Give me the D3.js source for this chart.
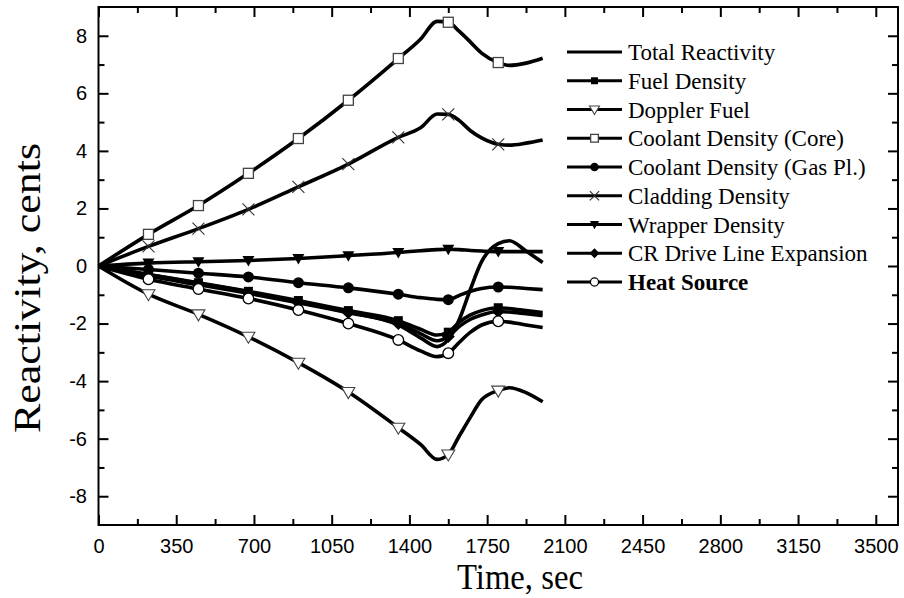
<!DOCTYPE html>
<html><head><meta charset="utf-8">
<script src="https://cdn.jsdelivr.net/npm/d3@7"></script>
<style>body{margin:0;background:#fff}svg{display:block}</style>
</head><body><svg id="c" width="904" height="598"></svg>
<script>
const times = [0,225,450,675,900,1125,1350,1450,1525,1575,1625,1675,1725,1800,1850,1925,2000];
const totalReactivity = [0,-0.3,-0.6,-0.9,-1.25,-1.6,-2.05,-2.5,-2.8,-2.55,-1.85,-0.8,0.15,0.78,0.88,0.52,0.12];
const fuelDensity = [0,-0.3,-0.58,-0.88,-1.2,-1.55,-1.9,-2.2,-2.4,-2.3,-1.95,-1.7,-1.55,-1.45,-1.48,-1.55,-1.62];
const dopplerFuel = [0,-0.98,-1.68,-2.46,-3.36,-4.38,-5.62,-6.2,-6.72,-6.55,-5.9,-5.25,-4.65,-4.33,-4.23,-4.4,-4.72];
const coolantCore = [0,1.1,2.1,3.22,4.43,5.76,7.21,7.88,8.5,8.47,8.15,7.78,7.4,7.07,6.97,7.05,7.22];
const coolantGas = [0,-0.12,-0.25,-0.38,-0.58,-0.76,-0.98,-1.1,-1.16,-1.17,-1.02,-0.88,-0.78,-0.73,-0.74,-0.78,-0.82];
const cladding = [0,0.68,1.3,1.97,2.75,3.54,4.47,4.8,5.28,5.27,5.05,4.7,4.45,4.23,4.2,4.27,4.38];
const wrapper = [0,0.1,0.15,0.19,0.26,0.36,0.47,0.53,0.57,0.58,0.57,0.54,0.52,0.5,0.5,0.5,0.5];
const crDriveLine = [0,-0.35,-0.65,-0.95,-1.28,-1.62,-2.0,-2.35,-2.6,-2.45,-2.1,-1.85,-1.7,-1.58,-1.6,-1.66,-1.72];
const heatSource = [0,-0.46,-0.8,-1.13,-1.53,-2.0,-2.57,-2.95,-3.15,-3.03,-2.65,-2.3,-2.05,-1.92,-1.95,-2.05,-2.14];

const seriesNames = ["Total Reactivity","Fuel Density","Doppler Fuel","Coolant Density (Core)","Coolant Density (Gas Pl.)","Cladding Density","Wrapper Density","CR Drive Line Expansion","Heat Source"];
const seriesValues = [totalReactivity,fuelDensity,dopplerFuel,coolantCore,coolantGas,cladding,wrapper,crDriveLine,heatSource];
const seriesMarkers = ["none","squareFilled","triDownOpen","squareOpen","circleFilled","cross","triDownFilled","diamondFilled","circleOpen"];

const xMajor = [0,350,700,1050,1400,1750,2100,2450,2800,3150,3500];
const xMinor = [175,525,875,1225,1575,1925,2275,2625,2975,3325];
const yMajor = [-8,-6,-4,-2,0,2,4,6,8];
const yMinor = [-7,-5,-3,-1,1,3,5,7];
const markerStep = 225;

const svg = d3.select("#c");
const L=98.5, R=898, T=7, B=525;
const x = d3.scaleLinear().domain([0,3600]).range([L,R]);
const y = d3.scaleLinear().domain([-9,9]).range([B,T]);

function axisG(axis, tr){ const g=svg.append("g").attr("transform",tr).call(axis); g.select(".domain").remove(); g.selectAll("line").attr("stroke","#000").attr("stroke-width",2); return g; }
const fmt = d => String(d);
const tickFont = g => g.selectAll("text").attr("font-family","'Liberation Sans', Arial, sans-serif").attr("font-size",20).attr("fill","#000");
tickFont(axisG(d3.axisBottom(x).tickValues(xMajor).tickFormat(fmt).tickSizeInner(-10).tickPadding(13.5), `translate(0,${B})`));
axisG(d3.axisBottom(x).tickValues(xMinor).tickFormat("").tickSizeInner(-6), `translate(0,${B})`);
axisG(d3.axisTop(x).tickValues(xMajor).tickFormat("").tickSizeInner(-10), `translate(0,${T})`);
axisG(d3.axisTop(x).tickValues(xMinor).tickFormat("").tickSizeInner(-6), `translate(0,${T})`);
tickFont(axisG(d3.axisLeft(y).tickValues(yMajor).tickFormat(fmt).tickSizeInner(-10).tickPadding(11.5), `translate(${L},0)`));
axisG(d3.axisLeft(y).tickValues(yMinor).tickFormat("").tickSizeInner(-6), `translate(${L},0)`);
axisG(d3.axisRight(y).tickValues(yMajor).tickFormat("").tickSizeInner(-10), `translate(${R},0)`);
axisG(d3.axisRight(y).tickValues(yMinor).tickFormat("").tickSizeInner(-6), `translate(${R},0)`);

svg.append("rect").attr("x",L).attr("y",T).attr("width",R-L).attr("height",B-T).attr("fill","none").attr("stroke","#000").attr("stroke-width",2);

svg.append("text").attr("x",520).attr("y",589).attr("text-anchor","middle").attr("font-family","'Liberation Serif','Times New Roman',serif").attr("font-size",36).attr("textLength",126).attr("lengthAdjust","spacingAndGlyphs").text("Time, sec");
svg.append("text").attr("transform","translate(40,288) rotate(-90)").attr("text-anchor","middle").attr("font-family","'Liberation Serif','Times New Roman',serif").attr("font-size",38).attr("textLength",290).attr("lengthAdjust","spacingAndGlyphs").text("Reactivity, cents");

function drawMarker(g, type, cx, cy, s){
  const k = s/11;
  switch(type){
    case "squareFilled": g.append("rect").attr("x",cx-4.5*k).attr("y",cy-4.5*k).attr("width",9*k).attr("height",9*k).attr("fill","#000"); break;
    case "squareOpen": g.append("rect").attr("x",cx-5*k).attr("y",cy-5*k).attr("width",10*k).attr("height",10*k).attr("fill","#fff").attr("stroke","#444").attr("stroke-width",1.3); break;
    case "triDownOpen": g.append("path").attr("d",`M${cx-6.5*k},${cy-4.5*k}L${cx+6.5*k},${cy-4.5*k}L${cx},${cy+6.5*k}Z`).attr("fill","#fff").attr("stroke","#444").attr("stroke-width",1.1); break;
    case "triDownFilled": g.append("path").attr("d",`M${cx-6*k},${cy-4.5*k}L${cx+6*k},${cy-4.5*k}L${cx},${cy+6*k}Z`).attr("fill","#000"); break;
    case "circleFilled": g.append("circle").attr("cx",cx).attr("cy",cy).attr("r",5.5*k).attr("fill","#000"); break;
    case "circleOpen": g.append("circle").attr("cx",cx).attr("cy",cy).attr("r",5.3*k).attr("fill","#fff").attr("stroke","#000").attr("stroke-width",1.3); break;
    case "diamondFilled": g.append("path").attr("d",`M${cx},${cy-6.5*k}L${cx+6.5*k},${cy}L${cx},${cy+6.5*k}L${cx-6.5*k},${cy}Z`).attr("fill","#000"); break;
    case "cross": g.append("path").attr("d",`M${cx-6*k},${cy-6*k}L${cx+6*k},${cy+6*k}M${cx-6*k},${cy+6*k}L${cx+6*k},${cy-6*k}`).attr("stroke","#333").attr("stroke-width",1.1).attr("fill","none"); break;
  }
}

const line = d3.line().x(d=>x(d[0])).y(d=>y(d[1])).curve(d3.curveMonotoneX);
const plot = svg.append("g");
seriesValues.forEach((vals,i)=>{
  const pts = times.map((t,j)=>[t,vals[j]]);
  plot.append("path").attr("d",line(pts)).attr("fill","none").attr("stroke","#000").attr("stroke-width",3.6).attr("stroke-linejoin","round");
});
const mk = svg.append("g");
seriesValues.forEach((vals,i)=>{
  if(seriesMarkers[i]==="none") return;
  times.forEach((t,j)=>{ if(t>0 && t%markerStep===0) drawMarker(mk, seriesMarkers[i], x(t), y(vals[j]), 11); });
});

const lg = svg.append("g");
seriesNames.forEach((n,i)=>{
  const cy = 52 + i*28.75;
  lg.append("line").attr("x1",567).attr("x2",622).attr("y1",cy).attr("y2",cy).attr("stroke","#000").attr("stroke-width",3);
  if(seriesMarkers[i]!=="none") drawMarker(lg, seriesMarkers[i], 594.5, cy, 8.5);
  lg.append("text").attr("x",628).attr("y",cy).attr("dy","0.35em").attr("font-family","'Liberation Serif','Times New Roman',serif").attr("font-size",23).attr("font-weight", i===8?"bold":"normal").text(n);
});
</script></body></html>
